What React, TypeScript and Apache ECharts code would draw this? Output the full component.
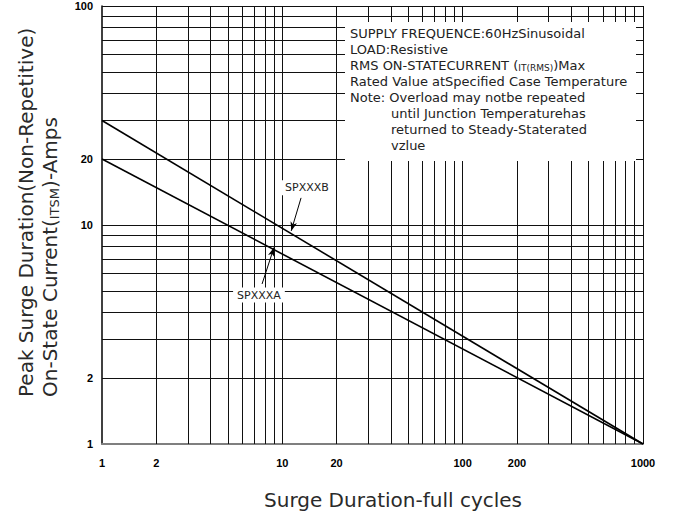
import React, { useEffect, useRef } from "react";
import * as echarts from "echarts";

// ---- data ----
const xTickLabels = [1, 2, 10, 20, 100, 200, 1000];
const yTickLabels = [1, 2, 10, 20, 100];
const xGridValues = [2, 3, 4, 5, 6, 7, 8, 9, 10, 20, 30, 40, 50, 60, 70, 80, 90, 100, 200, 300, 400, 500, 600, 700, 800, 900, 1000];
const yGridValues = [2, 3, 4, 5, 6, 7, 8, 9, 10, 20, 30, 40, 50, 60, 70, 80, 90, 100];
const surgeCycles = [1, 1000];
const currentA = [20, 1];
const currentB = [30, 1];
const seriesNames = ["SPXXXA", "SPXXXB"];
const noteLines = [
  "SUPPLY FREQUENCE:60HzSinusoidal",
  "LOAD:Resistive",
  "RMS ON-STATECURRENT ({s|IT(RMS)})Max",
  "Rated Value atSpecified Case Temperature",
  "Note: Overload may notbe repeated",
  "until Junction Temperaturehas",
  "returned to Steady-Staterated",
  "vzlue",
];

// annotation anchors in data space (cycles, amps)
const annot = {
  labelB: [13.7, 14.8],
  arrowB: [[12.7, 13.3], [11.2, 9.4]],
  labelA: [7.42, 4.79],
  arrowA: [[7.72, 5.38], [8.99, 7.9]],
  whiteA: [[4.9, 6.6], [8.6, 4.6]],
};

const FONT = "DejaVu Sans";
const TICKFONT = "Liberation Sans";

export default function App() {
  const ref = useRef<HTMLDivElement>(null);
  useEffect(() => {
    document.body.style.margin = "0";
    if (!ref.current) return;
    const chart = echarts.init(ref.current, undefined, { renderer: "svg" });

    const vLines = xGridValues.map((x) => ({ coords: [[x, 1], [x, 100]] }));
    const hLines = yGridValues.map((y) => ({ coords: [[1, y], [1000, y]] }));
    const lineData = (vals: number[]) => surgeCycles.map((x, i) => [x, vals[i]]);

    const gridLineSeries = (data: any[]) => ({
      type: "lines",
      coordinateSystem: "cartesian2d",
      silent: true,
      z: 1,
      lineStyle: { color: "#111", width: 1, opacity: 1 },
      data,
    });

    const markerLabel = (text: string) => ({
      show: true,
      position: "inside",
      formatter: text,
      fontFamily: FONT,
      fontSize: 11,
      color: "#222",
      backgroundColor: "#fff",
      padding: [2, 4],
    });

    const arrow = (pair: number[][]) => ({
      silent: true,
      symbol: ["none", "arrow"],
      symbolSize: [5, 9],
      lineStyle: { color: "#000", width: 1, type: "solid" },
      label: { show: false },
      data: [[{ coord: pair[0] }, { coord: pair[1] }]],
    });

    const option: any = {
      animation: false,
      backgroundColor: "#fff",
      grid: { left: 102, right: 31, top: 6, bottom: 71 },
      xAxis: {
        type: "log",
        logBase: 10,
        min: 1,
        max: 1000,
        axisLine: { show: true, lineStyle: { color: "#7f7f7f", width: 2 } },
        axisTick: { show: false },
        splitLine: { show: false },
        axisLabel: {
          customValues: xTickLabels,
          formatter: (v: number) => String(Math.round(v)),
          fontFamily: TICKFONT,
          fontWeight: "bold",
          fontSize: 11,
          color: "#000",
          margin: 13,
        },
      },
      yAxis: {
        type: "log",
        logBase: 10,
        min: 1,
        max: 100,
        axisLine: { show: true, lineStyle: { color: "#000", width: 1.5 } },
        axisTick: { show: false },
        splitLine: { show: false },
        axisLabel: {
          customValues: yTickLabels,
          formatter: (v: number) => String(Math.round(v)),
          fontFamily: TICKFONT,
          fontWeight: "bold",
          fontSize: 11,
          color: "#000",
          margin: 9,
        },
      },
      graphic: {
        elements: [
          {
            type: "rect",
            z: 50,
            silent: true,
            shape: { x: 345, y: 22, width: 291, height: 139 },
            style: { fill: "#fff" },
          },
          ...noteLines.map((t, i) => ({
            type: "text",
            z: 51,
            x: i >= 5 ? 391 : 350,
            y: 33 + i * 16,
            style: {
              text: t,
              fontFamily: FONT,
              fontSize: 13,
              lineHeight: 15,
              fill: "#222",
              textAlign: "left",
              textVerticalAlign: "middle",
              rich: { s: { fontFamily: FONT, fontSize: 9, lineHeight: 15, fill: "#222", verticalAlign: "bottom" } },
            },
          })),
          {
            type: "text",
            x: 26,
            y: 397,
            rotation: Math.PI / 2,
            style: {
              text: "Peak Surge Duration(Non-Repetitive)",
              fontFamily: FONT,
              fontSize: 20,
              fill: "#2a2a2a",
              textAlign: "left",
              textVerticalAlign: "middle",
            },
          },
          {
            type: "text",
            x: 50,
            y: 397,
            rotation: Math.PI / 2,
            style: {
              text: "On-State Current({s|ITSM})-Amps",
              fontFamily: FONT,
              fontSize: 20,
              lineHeight: 22,
              fill: "#2a2a2a",
              textAlign: "left",
              textVerticalAlign: "middle",
              rich: { s: { fontFamily: FONT, fontSize: 13, lineHeight: 22, fill: "#2a2a2a", verticalAlign: "bottom" } },
            },
          },
          {
            type: "text",
            x: 393,
            y: 500,
            style: {
              text: "Surge Duration-full cycles",
              fontFamily: FONT,
              fontSize: 20,
              fill: "#2a2a2a",
              textAlign: "center",
              textVerticalAlign: "middle",
            },
          },
        ],
      },
      series: [
        gridLineSeries(vLines),
        gridLineSeries(hLines),
        {
          type: "line",
          name: "whiteouts",
          z: 2,
          silent: true,
          data: [],
          markArea: {
            silent: true,
            itemStyle: { color: "#fff", opacity: 1 },
            data: [[{ coord: annot.whiteA[0] }, { coord: annot.whiteA[1] }]],
          },
        },
        {
          type: "line",
          name: seriesNames[0],
          z: 3,
          symbol: "none",
          lineStyle: { color: "#000", width: 1.6 },
          data: lineData(currentA),
          markPoint: {
            symbol: "rect",
            symbolSize: [1, 1],
            itemStyle: { color: "transparent" },
            label: markerLabel(seriesNames[0]),
            data: [{ coord: annot.labelA }],
          },
          markLine: arrow(annot.arrowA),
        },
        {
          type: "line",
          name: seriesNames[1],
          z: 3,
          symbol: "none",
          lineStyle: { color: "#000", width: 1.6 },
          data: lineData(currentB),
          markPoint: {
            symbol: "rect",
            symbolSize: [1, 1],
            itemStyle: { color: "transparent" },
            label: markerLabel(seriesNames[1]),
            data: [{ coord: annot.labelB }],
          },
          markLine: arrow(annot.arrowB),
        },
      ],
    };
    chart.setOption(option);
    return () => chart.dispose();
  }, []);
  return <div ref={ref} style={{ width: 674, height: 515 }} />;
}
